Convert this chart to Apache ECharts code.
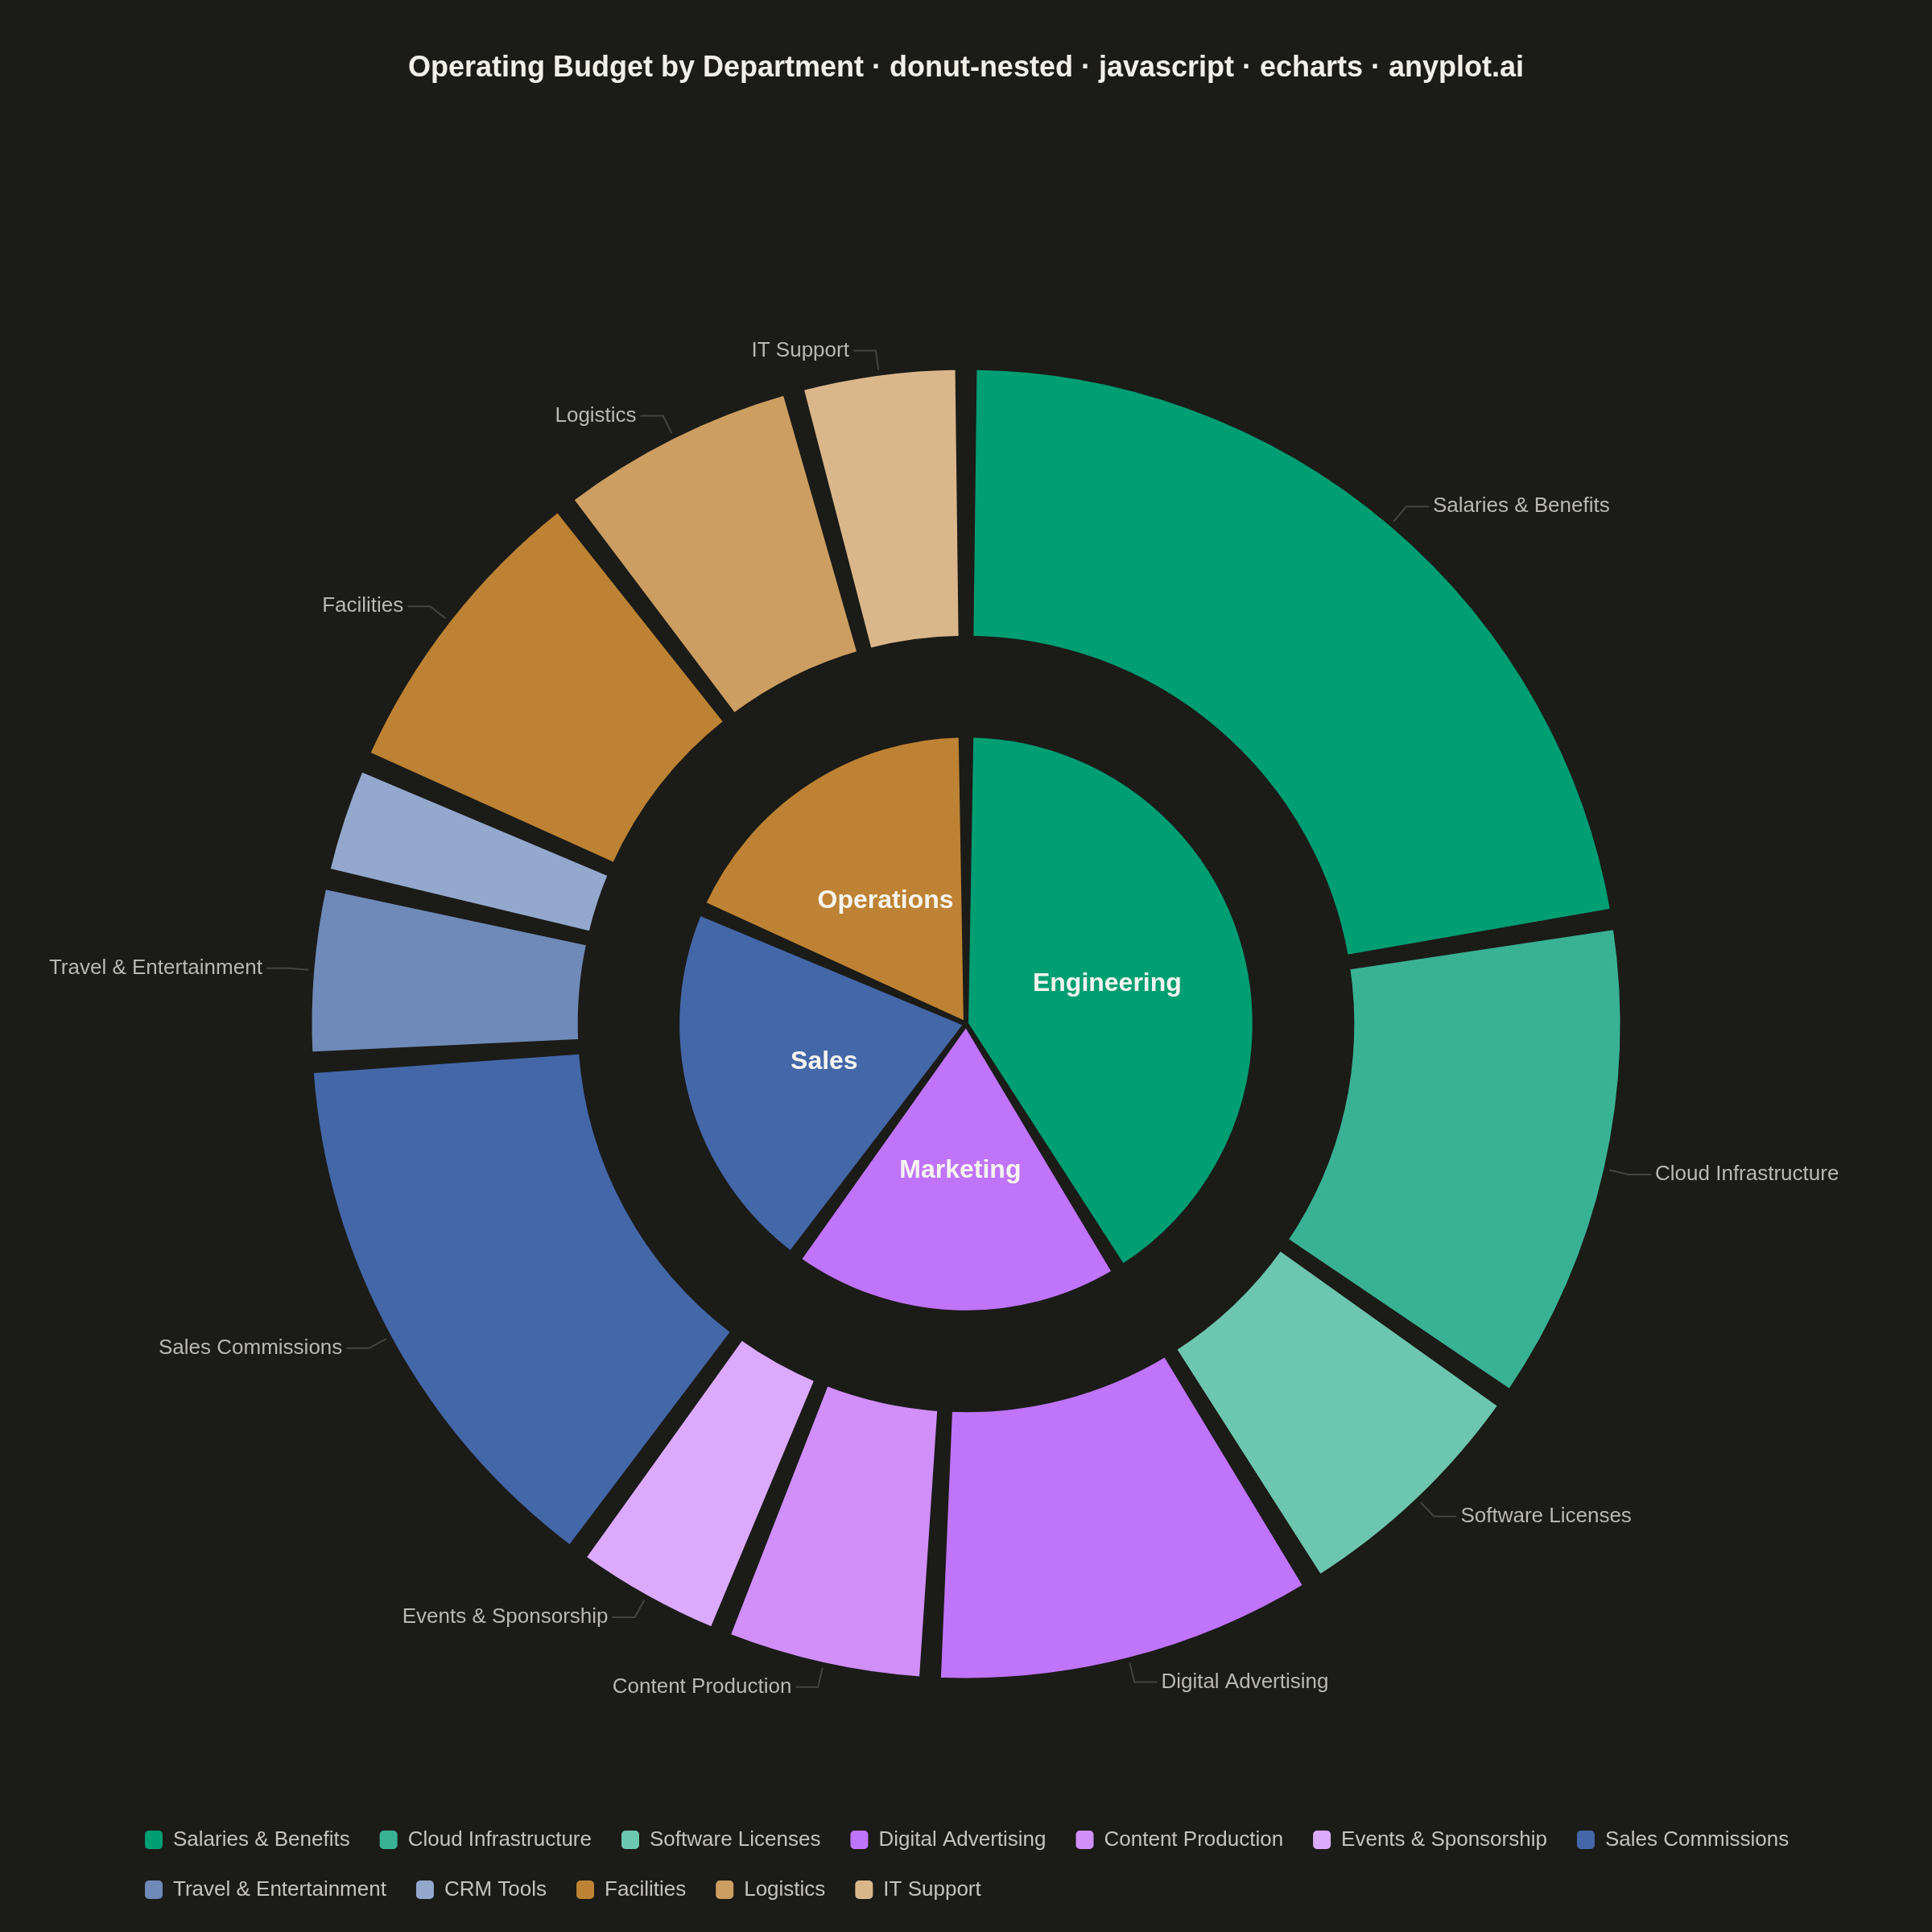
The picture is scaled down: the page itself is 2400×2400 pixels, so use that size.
<!DOCTYPE html>
<html>
<head>
<meta charset="utf-8">
<title>Operating Budget by Department</title>
<script src="https://cdn.jsdelivr.net/npm/echarts@6/dist/echarts.min.js"></script>
<style>
    html, body { margin: 0; padding: 0; background: #1b1b18; }
    #chart { width: 2400px; height: 2400px; }
</style>
</head>
<body>
<div id="chart"></div>
<script>
// 部门（内圈）
const departments = ['Engineering', 'Marketing', 'Sales', 'Operations'];
const departmentValues = [8.25, 3.8, 4.3, 3.7];

// 费用类别（外圈），单位：百万美元
const categories = [
    'Salaries & Benefits', 'Cloud Infrastructure', 'Software Licenses',
    'Digital Advertising', 'Content Production', 'Events & Sponsorship',
    'Sales Commissions', 'Travel & Entertainment', 'CRM Tools',
    'Facilities', 'Logistics', 'IT Support'
];
const categoryValues = [4.5, 2.45, 1.3, 1.95, 1.05, 0.8, 2.8, 0.9, 0.6, 1.6, 1.25, 0.85];

// 颜色
const departmentColors = ['#009e73', '#c074f9', '#4467a8', '#bd8233'];
const categoryColors = [
    '#009e73', '#39b294', '#6dc6ae',
    '#c074f9', '#d08ff9', '#dcaafc',
    '#4467a8', '#6f8ab8', '#93a8cc',
    '#bd8233', '#cc9e61', '#dab78a'
];

const BG = '#1b1b18';
const FONT = '"Liberation Sans", Arial, sans-serif';

document.addEventListener('DOMContentLoaded', function() {
    initBudgetChart();
});

function initBudgetChart() {
    const chart = echarts.init(document.getElementById('chart'));

    const innerData = departments.map((name, i) => ({
        name: name,
        value: departmentValues[i],
        itemStyle: { color: departmentColors[i] }
    }));

    const outerData = categories.map((name, i) => ({
        name: name,
        value: categoryValues[i],
        itemStyle: { color: categoryColors[i] }
    }));

    const option = {
        backgroundColor: BG,
        textStyle: { fontFamily: FONT },
        title: {
            text: 'Operating Budget by Department · donut-nested · javascript · echarts · anyplot.ai',
            left: 'center',
            top: 62,
            textStyle: {
                color: '#f0efe8',
                fontSize: 36,
                fontWeight: 'bold',
                fontFamily: FONT
            }
        },
        legend: {
            data: categories,
            bottom: 34,
            left: 173,
            width: 2070,
            itemWidth: 24,
            itemHeight: 25,
            itemGap: 35,
            icon: 'roundRect',
            textStyle: {
                color: '#c4c3bc',
                fontSize: 26,
                fontFamily: FONT,
                padding: [0, 0, 0, 7]
            }
        },
        series: [
            {
                name: 'Department',
                type: 'pie',
                center: ['50%', '53%'],
                radius: [0, '29.9%'],
                startAngle: 90,
                clockwise: true,
                padAngle: 2,
                silent: true,
                itemStyle: {
                    borderColor: BG,
                    borderWidth: 6
                },
                label: {
                    position: 'inside',
                    color: '#f5f4ee',
                    fontSize: 32,
                    fontWeight: 'bold',
                    fontFamily: FONT
                },
                labelLine: { show: false },
                data: innerData
            },
            {
                name: 'Category',
                type: 'pie',
                center: ['50%', '53%'],
                radius: ['39.9%', '68%'],
                startAngle: 90,
                clockwise: true,
                padAngle: 1.4,
                minShowLabelAngle: 12,
                itemStyle: {
                    borderColor: BG,
                    borderWidth: 7
                },
                label: {
                    show: true,
                    position: 'outside',
                    color: '#b9b8b1',
                    fontSize: 26,
                    fontFamily: FONT
                },
                labelLine: {
                    show: true,
                    length: 28,
                    length2: 28,
                    lineStyle: { color: '#45453f', width: 2 }
                },
                data: outerData
            }
        ]
    };

    chart.setOption(option);

    window.addEventListener('resize', function() {
        chart.resize();
    });
}
</script>
</body>
</html>
